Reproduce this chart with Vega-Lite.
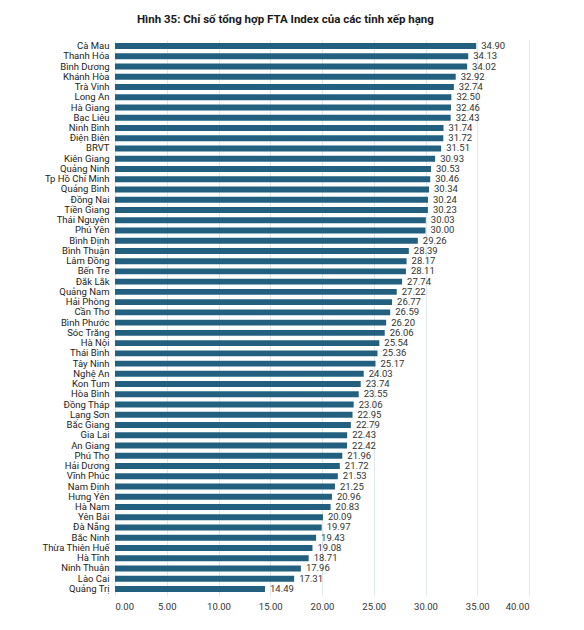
{
  "$schema": "https://vega.github.io/schema/vega-lite/v6.json",
  "width": 414,
  "height": 555,
  "padding": {"left": 41, "top": 13, "right": 5, "bottom": 5},
  "background": "white",
  "title": {
    "text": "Hình 35:  Chỉ số tổng hợp FTA Index của các tỉnh xếp hạng",
    "font": "Roboto, sans-serif",
    "fontSize": 11.5,
    "fontWeight": "bold",
    "color": "#1a1a1a",
    "anchor": "middle",
    "frame": "bounds",
    "offset": 15
  },
  "data": {
    "values": [
      {"province": "Cà Mau", "value": 34.90},
      {"province": "Thanh Hóa", "value": 34.13},
      {"province": "Bình Dương", "value": 34.02},
      {"province": "Khánh Hòa", "value": 32.92},
      {"province": "Trà Vinh", "value": 32.74},
      {"province": "Long An", "value": 32.50},
      {"province": "Hà Giang", "value": 32.46},
      {"province": "Bạc Liêu", "value": 32.43},
      {"province": "Ninh Bình", "value": 31.74},
      {"province": "Điện Biên", "value": 31.72},
      {"province": "BRVT", "value": 31.51},
      {"province": "Kiên Giang", "value": 30.93},
      {"province": "Quảng Ninh", "value": 30.53},
      {"province": "Tp Hồ Chí Minh", "value": 30.46},
      {"province": "Quảng Bình", "value": 30.34},
      {"province": "Đồng Nai", "value": 30.24},
      {"province": "Tiền Giang", "value": 30.23},
      {"province": "Thái Nguyên", "value": 30.03},
      {"province": "Phú Yên", "value": 30.00},
      {"province": "Bình Định", "value": 29.26},
      {"province": "Bình Thuận", "value": 28.39},
      {"province": "Lâm Đồng", "value": 28.17},
      {"province": "Bến Tre", "value": 28.11},
      {"province": "Đắk Lắk", "value": 27.74},
      {"province": "Quảng Nam", "value": 27.22},
      {"province": "Hải Phòng", "value": 26.77},
      {"province": "Cần Thơ", "value": 26.59},
      {"province": "Bình Phước", "value": 26.20},
      {"province": "Sóc Trăng", "value": 26.06},
      {"province": "Hà Nội", "value": 25.54},
      {"province": "Thái Bình", "value": 25.36},
      {"province": "Tây Ninh", "value": 25.17},
      {"province": "Nghệ An", "value": 24.03},
      {"province": "Kon Tum", "value": 23.74},
      {"province": "Hòa Bình", "value": 23.55},
      {"province": "Đồng Tháp", "value": 23.06},
      {"province": "Lạng Sơn", "value": 22.95},
      {"province": "Bắc Giang", "value": 22.79},
      {"province": "Gia Lai", "value": 22.43},
      {"province": "An Giang", "value": 22.42},
      {"province": "Phú Thọ", "value": 21.96},
      {"province": "Hải Dương", "value": 21.72},
      {"province": "Vĩnh Phúc", "value": 21.53},
      {"province": "Nam Định", "value": 21.25},
      {"province": "Hưng Yên", "value": 20.96},
      {"province": "Hà Nam", "value": 20.83},
      {"province": "Yên Bái", "value": 20.09},
      {"province": "Đà Nẵng", "value": 19.97},
      {"province": "Bắc Ninh", "value": 19.43},
      {"province": "Thừa Thiên Huế", "value": 19.08},
      {"province": "Hà Tĩnh", "value": 18.71},
      {"province": "Ninh Thuận", "value": 17.96},
      {"province": "Lào Cai", "value": 17.31},
      {"province": "Quảng Trị", "value": 14.49}
    ]
  },
  "encoding": {
    "y": {
      "field": "province",
      "type": "nominal",
      "sort": null,
      "scale": {"paddingInner": 0.42, "paddingOuter": 0.3},
      "axis": {
        "title": null,
        "domain": false,
        "ticks": false,
        "labelPadding": 6,
        "labelFont": "Roboto, sans-serif",
        "labelFontSize": 9.5,
        "labelColor": "#222222"
      }
    },
    "x": {
      "field": "value",
      "type": "quantitative",
      "scale": {"domain": [0, 40], "nice": false},
      "axis": {
        "title": null,
        "values": [0, 5, 10, 15, 20, 25, 30, 35, 40],
        "format": ".2f",
        "domain": false,
        "ticks": false,
        "labelPadding": 6,
        "labelFont": "Roboto, sans-serif",
        "labelFontSize": 9.5,
        "labelColor": "#333333",
        "gridColor": "#dfe7ef",
        "gridWidth": 1
      }
    }
  },
  "layer": [
    {
      "mark": {"type": "bar", "color": "#23607f"}
    },
    {
      "mark": {
        "type": "text",
        "align": "left",
        "baseline": "middle",
        "dx": 5,
        "font": "Roboto, sans-serif",
        "fontSize": 9.5,
        "color": "#333333"
      },
      "encoding": {
        "text": {"field": "value", "type": "quantitative", "format": ".2f"}
      }
    }
  ],
  "config": {
    "view": {"stroke": null}
  }
}
